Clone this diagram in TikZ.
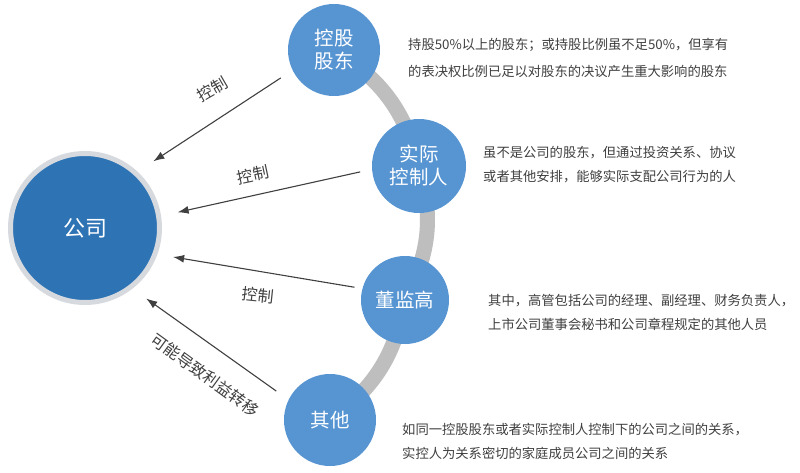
\documentclass[tikz,border=0pt]{standalone}
\usepackage{fontspec}
\setmainfont{Noto Sans CJK SC}
\usepackage{tikz}
\usetikzlibrary{positioning, arrows.meta, backgrounds}
\definecolor{bleufonce}{RGB}{46, 116, 181}
\definecolor{bleuclair}{RGB}{86, 148, 210}
\definecolor{grisanneau}{RGB}{214, 217, 222}
\definecolor{grisarc}{RGB}{190, 190, 190}
\definecolor{gristexte}{RGB}{64, 64, 64}

\begin{document}
\begin{tikzpicture}[x=1pt, y=-1pt,
    cercle/.style={circle, fill=bleuclair, text=white, minimum size=92pt, inner sep=0pt,
      align=center, font=\fontsize{19.5}{23}\selectfont},
    fleche/.style={-{Latex[length=11pt, width=8pt]}, draw=gristexte, line width=1.1pt},
    etiq/.style={inner sep=0pt, text=gristexte, font=\fontsize{16}{18}\selectfont},
    desc/.style={anchor=west, align=left, inner sep=0pt, text=gristexte,
      font=\fontsize{13.3}{24}\selectfont}]
    \useasboundingbox (0,0) rectangle (800,473);
    % company
    \node[circle, fill=bleufonce, draw=grisanneau, line width=5pt, minimum size=149pt,
      text=white, font=\fontsize{22}{24}\selectfont] (gs) at (85,228) {公司};
    % related parties
    \node[cercle] (kg) at (334,50) {控股\\股东};
    \node[cercle, minimum size=94pt] (sj) at (419,166) {实际\\控制人};
    \node[cercle, minimum size=88pt] (djg) at (405,300) {董监高};
    \node[cercle] (qt) at (330,420) {其他};
    \begin{scope}[on background layer]
      \fill[white] (0,0) rectangle (800,473);
      \draw[grisarc, line width=15pt] (kg.center) to[bend left=22] (sj.center)
        to[bend left=22] (djg.center) to[bend left=22] (qt.center);
    \end{scope}
    % arrows
    \draw[fleche, shorten <=14pt, shorten >=19pt] (kg.206) -- (gs.47.5);
    \draw[fleche, shorten <=12pt, shorten >=17pt] (sj.184) -- (gs.9);
    \draw[fleche, shorten <=8pt, shorten >=16pt] (djg.165) -- (gs.-20);
    \draw[fleche, shorten <=15pt, shorten >=17pt] (qt.154) -- (gs.-52);
    \node[etiq, rotate=30] (c1) at (212,89) {控制};
    \node[etiq, rotate=12] (c2) at (253,175) {控制};
    \node[etiq, rotate=-6] (c3) at (258,295) {控制};
    \node[etiq, rotate=-36] (c4) at (205,375) {可能导致利益转移};
    % descriptions
    \node[desc, font=\fontsize{13.3}{27}\selectfont] (d1) at (408,58)
      {持股50\%以上的股东；或持股比例虽不足50\%，但享有\\的表决权比例已足以对股东的决议产生重大影响的股东};
    \node[desc] (d2) at (483,165)
      {虽不是公司的股东，但通过投资关系、协议\\或者其他安排，能够实际支配公司行为的人};
    \node[desc] (d3) at (488,312)
      {其中，高管包括公司的经理、副经理、财务负责人，\\上市公司董事会秘书和公司章程规定的其他人员};
    \node[desc] (d4) at (402,441)
      {如同一控股股东或者实际控制人控制下的公司之间的关系，\\实控人为关系密切的家庭成员公司之间的关系};
\end{tikzpicture}
\end{document}
